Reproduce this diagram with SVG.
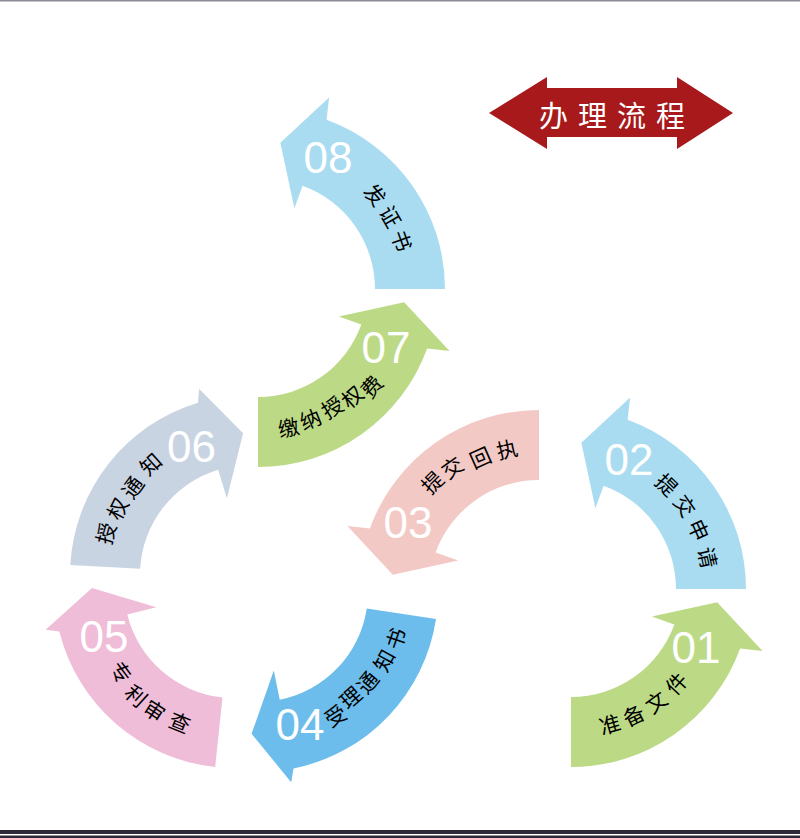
<svg xmlns="http://www.w3.org/2000/svg" xmlns:xlink="http://www.w3.org/1999/xlink" width="800" height="838" viewBox="0 0 800 838">
<style>
.lbl{font-family:"Noto Sans CJK SC","Noto Sans CJK TC",sans-serif;font-size:21px;fill:#000;text-anchor:middle;dominant-baseline:central}
.num{font-family:"Liberation Sans",Arial,sans-serif;font-size:44px;fill:#fff;text-anchor:middle}
.title{font-family:"Noto Sans CJK SC","Noto Sans CJK TC",sans-serif;font-size:29px;fill:#fff;text-anchor:middle;dominant-baseline:central;letter-spacing:10px}
</style>
<defs>
<path id="arcA" d="M180,0 L110,0 A110,110 0 0 0 37.62,-103.37 L29.41,-80.81 L15.37,-146.19 L64.10,-191.56 L61.56,-169.14 A180,180 0 0 1 180,0 Z"/>
<path id="arcB" d="M180,0 L110,0 A110,110 0 0 0 37.62,-103.37 L27.36,-75.18 L14.84,-141.22 L61.24,-183.03 L61.56,-169.14 A180,180 0 0 1 180,0 Z"/>
</defs>
<rect x="0" y="0" width="800" height="838" fill="#fff"/>
<rect x="0" y="0" width="800" height="1.5" fill="#8c8c96"/>
<rect x="0" y="830" width="800" height="4" fill="#2b2838"/>
<rect x="0" y="835.5" width="800" height="2.5" fill="#2b2838"/>

<g id="title">
<polygon points="489,113 547,77 547,88 677,88 677,77 733,113 677,149 677,137 547,137 547,149" fill="#a8191b"/>
<text class="title" x="617" y="113.5">办理流程</text>
</g>

<g id="connectors"></g>

<g id="step01">
<use xlink:href="#arcA" transform="translate(571,587) rotate(90)" fill="#bcda86"/>
<text class="num" x="696" y="663">01</text>
<text class="lbl" transform="translate(609.7,723.6) rotate(-15.8)">准</text>
<text class="lbl" transform="translate(633.3,714.6) rotate(-26)">备</text>
<text class="lbl" transform="translate(655.5,701.2) rotate(-36.5)">文</text>
<text class="lbl" transform="translate(675.7,682.9) rotate(-47.5)">件</text>
</g>

<g id="step02">
<use xlink:href="#arcA" transform="translate(566,589)" fill="#a9dcf1"/>
<text class="num" x="629" y="475">02</text>
<text class="lbl" transform="translate(667.4,484) rotate(44)">提</text>
<text class="lbl" transform="translate(685.6,505.3) rotate(55)">交</text>
<text class="lbl" transform="translate(699.4,529.6) rotate(66)">申</text>
<text class="lbl" transform="translate(708.5,557.4) rotate(77.5)">请</text>
</g>

<g id="step03">
<use xlink:href="#arcA" transform="translate(539,590) rotate(-90)" fill="#f3c9c6"/>
<text class="num" x="408" y="538">03</text>
<text class="lbl" transform="translate(431.7,481.7) rotate(-44.7)">提</text>
<text class="lbl" transform="translate(451.7,466.7) rotate(-35.3)">交</text>
<text class="lbl" transform="translate(480,456.7) rotate(-23.9)">回</text>
<text class="lbl" transform="translate(506.7,448.3) rotate(-12.8)">执</text>
</g>

<g id="step04">
<use xlink:href="#arcB" transform="translate(258,592) rotate(8.6) scale(1,-1)" fill="#6cbdeb"/>
<text class="num" x="300" y="740">04</text>
<text class="lbl" transform="translate(335,715) rotate(-32)">受</text>
<text class="lbl" transform="translate(350,696.7) rotate(-41.3)">理</text>
<text class="lbl" transform="translate(366.7,681.7) rotate(-50.5)">通</text>
<text class="lbl" transform="translate(383.3,660) rotate(-61.5)">知</text>
<text class="lbl" transform="translate(395,638.3) rotate(-71.3)">书</text>
</g>

<g id="step05">
<use xlink:href="#arcB" transform="translate(234,588) rotate(96) scale(1,-1)" fill="#f0bdd8"/>
<text class="num" x="104" y="652">05</text>
<text class="lbl" transform="translate(121.7,671.7) rotate(53.3)">专</text>
<text class="lbl" transform="translate(136.7,695) rotate(42.3)">利</text>
<text class="lbl" transform="translate(155,710) rotate(32.9)">审</text>
<text class="lbl" transform="translate(180,721.7) rotate(22)">查</text>
</g>

<g id="step06">
<use xlink:href="#arcB" transform="translate(250,575) rotate(183.2) scale(1,-1)" fill="#c9d4e3"/>
<text class="num" x="191.5" y="462">06</text>
<text class="lbl" transform="translate(105,533.3) rotate(-74)">授</text>
<text class="lbl" transform="translate(116.7,508.3) rotate(-63.4)">权</text>
<text class="lbl" transform="translate(131.7,486.7) rotate(-53.3)">通</text>
<text class="lbl" transform="translate(150,463.3) rotate(-41.8)">知</text>
</g>

<g id="step07">
<use xlink:href="#arcA" transform="translate(258,287) rotate(90)" fill="#bcda86"/>
<text class="num" x="386" y="363">07</text>
<text class="lbl" transform="translate(288.3,426.7) rotate(-12.2)">缴</text>
<text class="lbl" transform="translate(310,418.3) rotate(-21.6)">纳</text>
<text class="lbl" transform="translate(331.7,406.7) rotate(-31.6)">授</text>
<text class="lbl" transform="translate(351.7,396) rotate(-40.7)">权</text>
<text class="lbl" transform="translate(371,386) rotate(-48.8)">费</text>
</g>

<g id="step08">
<use xlink:href="#arcA" transform="translate(265,289)" fill="#a9dcf1"/>
<text class="num" x="328" y="173">08</text>
<text class="lbl" transform="translate(376,194.2) rotate(49.5)">发</text>
<text class="lbl" transform="translate(391.4,216) rotate(60)">证</text>
<text class="lbl" transform="translate(402.6,240.3) rotate(70.5)">书</text>
</g>
</svg>
